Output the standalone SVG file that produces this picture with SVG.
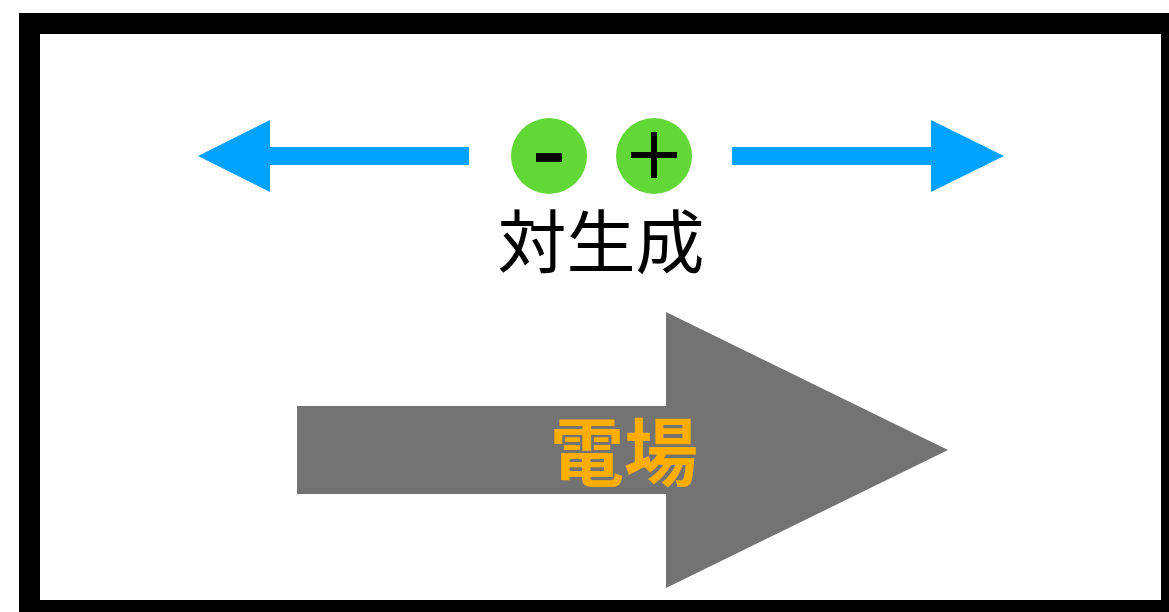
<svg xmlns="http://www.w3.org/2000/svg" width="1169" height="612" viewBox="0 0 1169 612">
<style>
.blue{fill:#00A2FF}
.ball{fill:#61D836}
.sign{fill:#000}
.jp{font-family:"Noto Sans CJK JP","Noto Sans CJK SC",sans-serif;text-anchor:middle}
</style>
<rect x="0" y="0" width="1169" height="612" fill="#fff"/>
<rect id="frame" x="29.5" y="23.5" width="1142" height="587" fill="#fff" stroke="#000" stroke-width="21"/>
<g id="connectors">
<polygon class="blue" points="469,147 270,147 270,120 198,156 270,192 270,165 469,165"/>
<polygon class="blue" points="732,147 931,147 931,120 1004,156 931,192 931,165 732,165"/>
</g>
<g id="electron">
<circle class="ball" cx="549" cy="156" r="38"/>
<rect class="sign" x="536" y="153" width="26" height="9"/>
</g>
<g id="positron">
<circle class="ball" cx="654" cy="156" r="38"/>
<rect class="sign" x="631" y="152" width="46" height="6"/>
<rect class="sign" x="651" y="132" width="6" height="46"/>
</g>
<g id="label-pair">
<text class="jp" x="601" y="268" font-size="69" fill="#000">対生成</text>
</g>
<g id="field">
<polygon fill="#737373" points="297,406 666,406 666,312 948,450 666,588 666,494 297,494"/>
<text class="jp" x="624" y="480" font-size="74" font-weight="bold" fill="#FFAE00">電場</text>
</g>
</svg>
